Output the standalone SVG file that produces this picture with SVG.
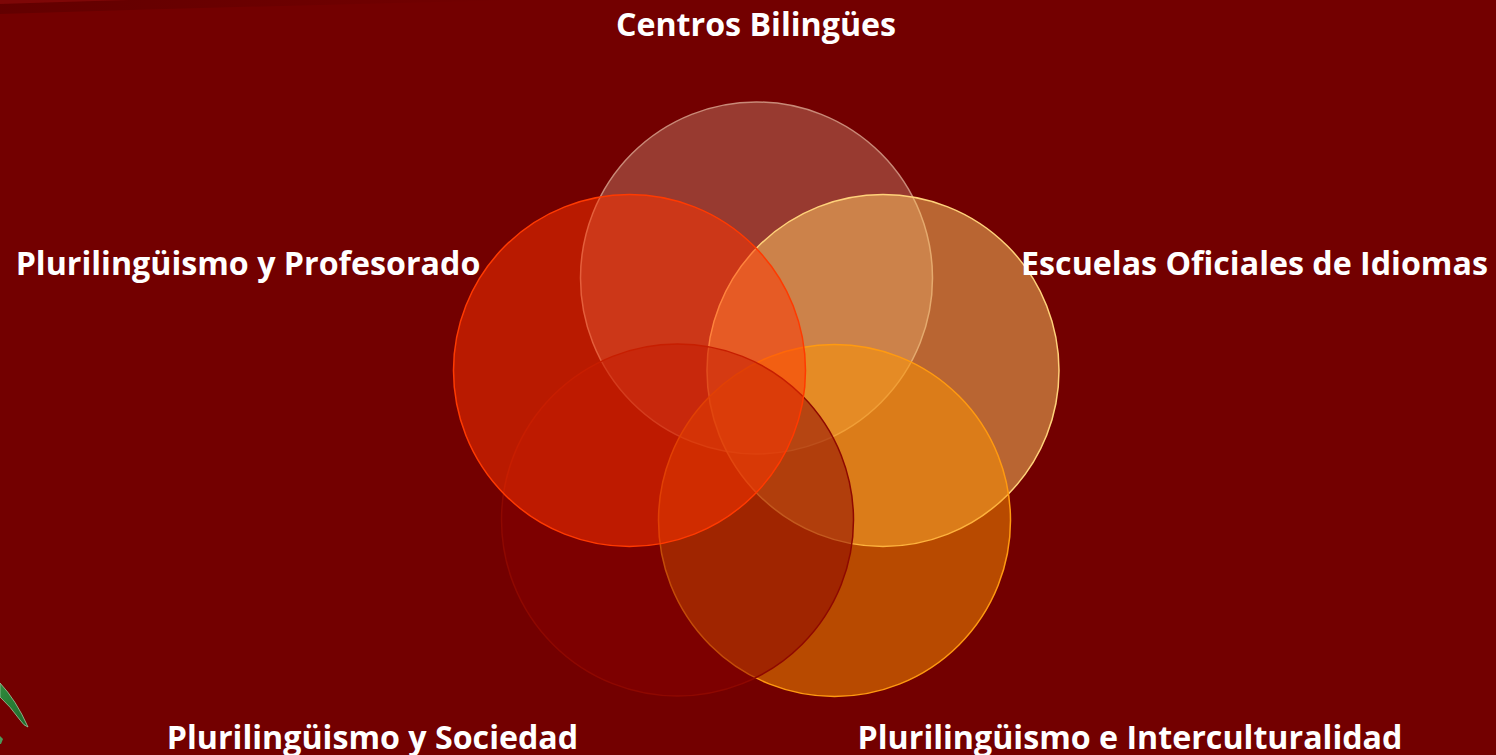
<svg xmlns="http://www.w3.org/2000/svg" width="1496" height="755" viewBox="0 0 1496 755">
<defs>
<style>
.lbl{font-family:"Open Sans","Noto Sans","Liberation Sans",sans-serif;font-weight:700;font-size:32.2px;fill:#ffffff;text-anchor:middle}
.c{fill-opacity:0.5;stroke-width:1.5}
</style>
<linearGradient id="streak" x1="0" y1="0" x2="1" y2="0">
<stop offset="0" stop-color="#5e0000" stop-opacity="0.8"/>
<stop offset="1" stop-color="#5e0000" stop-opacity="0"/>
</linearGradient>
<linearGradient id="leaf" x1="0" y1="0" x2="1" y2="1">
<stop offset="0" stop-color="#2f8a3c"/>
<stop offset="1" stop-color="#1f6b2c"/>
</linearGradient>
</defs>
<rect width="1496" height="755" fill="#730000"/>
<g id="decor">
<path d="M0 0 L520 0 Q260 6 0 14 Z" fill="url(#streak)"/>
<path d="M0 0 L130 0 Q60 2 0 4 Z" fill="#8a0a0a" opacity="0.7"/>
<path d="M0 683 Q16 700 28 727 Q24 726 20 720 Q10 706 0 697 Z" fill="url(#leaf)" stroke="#9fc7a0" stroke-width="0.8"/>
<path d="M0 736 L3 739 L1 744 L0 744 Z" fill="#4a9a5a"/>
</g>
<g id="circles">
<g id="node-centros"><circle class="c" cx="756.5" cy="278" r="176" fill="#bd7460" stroke="#c98a78"/></g>
<g id="node-escuelas"><circle class="c" cx="883" cy="370.5" r="176" fill="#ffca64" stroke="#ffd27a"/></g>
<g id="node-intercult"><circle class="c" cx="834.5" cy="520.5" r="176" fill="#fd9400" stroke="#ff9a10"/></g>
<g id="node-sociedad"><circle class="c" cx="677.5" cy="520" r="176" fill="#870000" stroke="#8e0800"/></g>
<g id="node-profesorado"><circle class="c" cx="629.5" cy="370.5" r="176" fill="#ff3400" stroke="#ff3a00"/></g>
</g>
<g id="connectors"></g>
<g id="labels">
<text class="lbl" x="756" y="35.5">Centros Bilingües</text>
<text class="lbl" x="248" y="274.5">Plurilingüismo y Profesorado</text>
<text class="lbl" x="1254.5" y="274.5">Escuelas Oficiales de Idiomas</text>
<text class="lbl" x="372.5" y="748.5">Plurilingüismo y Sociedad</text>
<text class="lbl" x="1130" y="748.5">Plurilingüismo e Interculturalidad</text>
</g>
</svg>
